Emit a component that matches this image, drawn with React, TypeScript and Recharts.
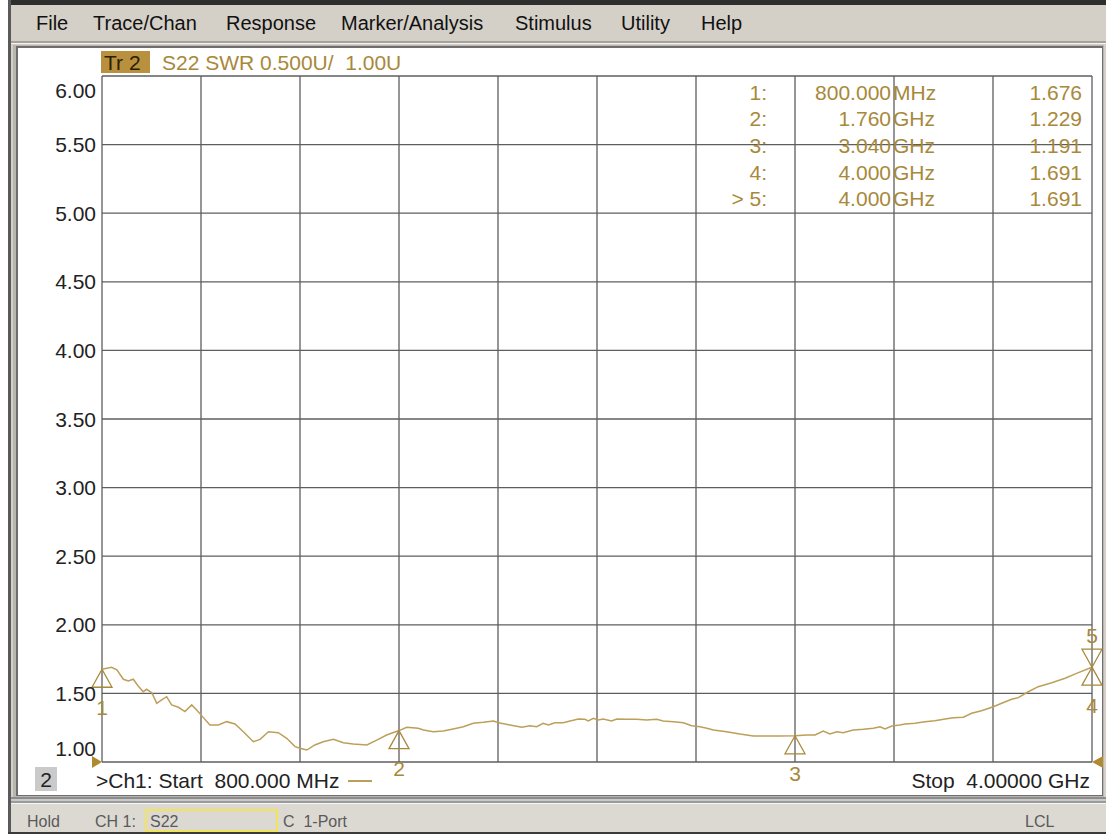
import React from 'react';
import { ComposedChart, Line, Scatter, XAxis, YAxis, CartesianGrid, ReferenceDot, ReferenceLine } from 'recharts';

// stimulus, GHz
const freqs = [
  0.8, 0.831, 0.848, 0.869, 0.885, 0.901, 0.917, 0.933, 0.944, 0.961, 0.977, 0.993, 1.009, 1.025, 1.047,
  1.068, 1.09, 1.106, 1.122, 1.149, 1.176, 1.203, 1.23, 1.257, 1.289, 1.311, 1.338, 1.37, 1.397, 1.424,
  1.44, 1.462, 1.488, 1.515, 1.548, 1.58, 1.612, 1.656, 1.688, 1.72, 1.76, 1.785, 1.822, 1.839, 1.871,
  1.903, 1.935, 1.968, 2.0, 2.032, 2.065, 2.086, 2.119, 2.157, 2.183, 2.205, 2.226, 2.243, 2.264, 2.291,
  2.313, 2.34, 2.361, 2.372, 2.388, 2.404, 2.42, 2.447, 2.464, 2.496, 2.528, 2.561, 2.593, 2.614, 2.647,
  2.679, 2.706, 2.733, 2.755, 2.776, 2.819, 2.862, 2.905, 2.948, 2.991, 3.04, 3.078, 3.105, 3.131, 3.153,
  3.175, 3.196, 3.228, 3.261, 3.293, 3.315, 3.331, 3.353, 3.379, 3.396, 3.428, 3.46, 3.492, 3.525, 3.552,
  3.584, 3.611, 3.643, 3.681, 3.708, 3.74, 3.762, 3.794, 3.826, 3.87, 3.913, 3.95, 4.0,
];

// S22 SWR
const swr = [
  1.676, 1.69, 1.671, 1.603, 1.59, 1.603, 1.554, 1.512, 1.53, 1.505, 1.428, 1.452, 1.476, 1.416, 1.399,
  1.367, 1.416, 1.379, 1.338, 1.27, 1.27, 1.294, 1.277, 1.221, 1.148, 1.165, 1.221, 1.214, 1.173, 1.112,
  1.1, 1.087, 1.124, 1.148, 1.165, 1.141, 1.131, 1.124, 1.16, 1.197, 1.229, 1.253, 1.246, 1.233, 1.221,
  1.226, 1.241, 1.257, 1.282, 1.289, 1.299, 1.284, 1.27, 1.253, 1.265, 1.257, 1.282, 1.27, 1.286, 1.286,
  1.299, 1.313, 1.311, 1.299, 1.319, 1.306, 1.313, 1.299, 1.313, 1.311, 1.311, 1.306, 1.311, 1.299, 1.294,
  1.286, 1.265, 1.257, 1.246, 1.233, 1.221, 1.204, 1.19, 1.19, 1.19, 1.191, 1.197, 1.197, 1.226, 1.204,
  1.221, 1.214, 1.233, 1.238, 1.246, 1.257, 1.241, 1.262, 1.27, 1.277, 1.282, 1.294, 1.301, 1.313, 1.323,
  1.326, 1.355, 1.374, 1.403, 1.428, 1.457, 1.469, 1.512, 1.549, 1.578, 1.61, 1.646, 1.691,
];

const xTicks = [0.8, 1.12, 1.44, 1.76, 2.08, 2.4, 2.72, 3.04, 3.36, 3.68, 4.0];
const yTicks = [1, 1.5, 2, 2.5, 3, 3.5, 4, 4.5, 5, 5.5, 6];

// markers
const markerNames = ['1', '2', '3', '4', '5'];
const markerFreqs = [0.8, 1.76, 3.04, 4.0, 4.0];
const markerValues = [1.676, 1.229, 1.191, 1.691, 1.691];
const markerStim = ['800.000', '1.760', '3.040', '4.000', '4.000'];
const markerUnits = ['MHz', 'GHz', 'GHz', 'GHz', 'GHz'];
const markerActive = [false, false, false, false, true];

const menuItems = ['File', 'Trace/Chan', 'Response', 'Marker/Analysis', 'Stimulus', 'Utility', 'Help'];
const menuX = [36, 93, 226, 341, 515, 621, 701];

const GOLD = '#a8883a';
const TRACE = '#bd9f5a';
const GRID = '#5e5e5e';
const FONT = '"Liberation Sans", Arial, sans-serif';

const data = freqs.map((f, i) => ({ f, swr: swr[i] }));
const markers = markerFreqs.map((f, i) => ({ f, v: markerValues[i], name: markerNames[i], down: markerActive[i] }));

const YTick = (props: any) => {
  const { x, y, payload } = props;
  const v = payload.value;
  const shift = v === 6 ? 14 : v === 1 ? -14 : 0;
  return (
    <text x={x - 4} y={y + shift} dy="0.36em" textAnchor="end" fill="#222" fontSize={21} fontFamily={FONT}>
      {v.toFixed(2)}
    </text>
  );
};

const MarkerShape = (props: any) => {
  const { cx, cy, payload } = props;
  const w = 10;
  const h = 18;
  if (payload.down) {
    return (
      <g>
        <path d={`M${cx},${cy} L${cx - w},${cy - h} L${cx + w},${cy - h} Z`} fill="none" stroke={GOLD} strokeWidth={1.3} />
        <text x={cx} y={cy - h - 14} dy="0.36em" textAnchor="middle" fill={GOLD} fontSize={21} fontFamily={FONT}>
          {payload.name}
        </text>
      </g>
    );
  }
  return (
    <g>
      <path d={`M${cx},${cy} L${cx - w},${cy + h} L${cx + w},${cy + h} Z`} fill="none" stroke={GOLD} strokeWidth={1.3} />
      <text x={cx} y={cy + h + 20} dy="0.36em" textAnchor="middle" fill={GOLD} fontSize={21} fontFamily={FONT}>
        {payload.name}
      </text>
    </g>
  );
};

const LeftRef = (props: any) => {
  const { cx, cy } = props;
  return <path d={`M${cx},${cy} L${cx - 10},${cy - 6} L${cx - 10},${cy + 6} Z`} fill="#b08a30" />;
};
const RightRef = (props: any) => {
  const { cx, cy } = props;
  return <path d={`M${cx},${cy} L${cx + 11},${cy - 6} L${cx + 11},${cy + 6} Z`} fill="#b08a30" />;
};

export default function App() {
  const rowY = [92, 118, 145, 172, 198];
  return (
    <div style={{ position: 'absolute', left: 0, top: 0, width: 1106, height: 834, overflow: 'hidden', background: '#fff' }}>
      {/* window frame */}
      <svg width={1106} height={834} style={{ position: 'absolute', left: 0, top: 0 }}>
        <rect x={0} y={0} width={1106} height={834} fill="#fff" />
        <rect x={8} y={0} width={1098} height={834} fill="#d4d0c8" />
        <rect x={8} y={0} width={1098} height={5} fill="#2e2e2e" />
        <rect x={8} y={0} width={3} height={834} fill="#5a5a5a" />
        <rect x={11} y={41} width={1095} height={2} fill="#a6a39c" />
        <rect x={11} y={43} width={1095} height={1} fill="#f4f2ee" />
        <rect x={13} y={45} width={1091} height={752} fill="#b9b6b0" />
        <rect x={16} y={46} width={1087} height={750} fill="#6e6e6e" />
        <rect x={18} y={48} width={1084} height={747} fill="#fff" />
        <rect x={11} y={797} width={1095} height={2} fill="#8c8c8c" />
        <rect x={11} y={799} width={1095} height={2} fill="#c9c9c9" />
        <rect x={11} y={801} width={1095} height={2} fill="#9a9a9a" />
        <rect x={11} y={803} width={1095} height={1} fill="#f6f6f6" />
        <rect x={11} y={804} width={1095} height={29} fill="#dcd9d2" />
        <rect x={8} y={832} width={1098} height={2} fill="#3a3a3a" />
      </svg>

      <ComposedChart
        width={1106}
        height={834}
        data={data}
        margin={{ top: 76, right: 14, bottom: 71, left: 22 }}
        style={{ position: 'absolute', left: 0, top: 0 }}
      >
        <CartesianGrid stroke={GRID} strokeWidth={1.3} vertical={false} />
        <XAxis
          type="number"
          dataKey="f"
          domain={[0.8, 4]}
          ticks={xTicks}
          interval={0}
          tick={false}
          axisLine={false}
          tickLine={false}
          height={1}
        />
        <YAxis
          type="number"
          domain={[1, 6]}
          ticks={yTicks}
          interval={0}
          width={80}
          axisLine={false}
          tickLine={false}
          tickSize={0}
          tick={<YTick />}
        />
        {xTicks.map((t) => (
          <ReferenceLine key={t} x={t} stroke={GRID} strokeWidth={1.3} ifOverflow="visible" />
        ))}
        <Line type="linear" dataKey="swr" stroke={TRACE} strokeWidth={1.5} dot={false} isAnimationActive={false} />
        <Scatter data={markers} dataKey="v" shape={<MarkerShape />} isAnimationActive={false} />
        <ReferenceDot x={0.8} y={1} r={0} shape={<LeftRef />} ifOverflow="visible" />
        <ReferenceDot x={4} y={1} r={0} shape={<RightRef />} ifOverflow="visible" />
      </ComposedChart>

      {/* texts */}
      <svg width={1106} height={834} style={{ position: 'absolute', left: 0, top: 0, pointerEvents: 'none' }} fontFamily={FONT}>
        {menuItems.map((m, i) => (
          <text key={m} x={menuX[i]} y={23} dy="0.36em" fontSize={20} fill="#111">
            {m}
          </text>
        ))}
        <rect x={101} y={51} width={49} height={22} fill="#b8903e" />
        <text x={104} y={62} dy="0.36em" fontSize={21} fill="#2a2000" style={{ whiteSpace: 'pre' }}>
          Tr 2
        </text>
        <text x={162} y={62} dy="0.36em" fontSize={21} fill={GOLD} style={{ whiteSpace: 'pre' }}>
          {'S22 SWR 0.500U/  1.00U'}
        </text>

        {markerNames.map((n, i) => (
          <g key={n + i} fontSize={21} fill={GOLD}>
            <text x={767} y={rowY[i]} dy="0.36em" textAnchor="end">
              {(markerActive[i] ? '> ' : '') + n + ':'}
            </text>
            <text x={891} y={rowY[i]} dy="0.36em" textAnchor="end">
              {markerStim[i]}
            </text>
            <text x={893} y={rowY[i]} dy="0.36em">
              {markerUnits[i]}
            </text>
            <text x={1082} y={rowY[i]} dy="0.36em" textAnchor="end">
              {markerValues[i].toFixed(3)}
            </text>
          </g>
        ))}

        <rect x={35} y={767} width={22} height={24} fill="#cacaca" />
        <text x={46} y={779} dy="0.36em" textAnchor="middle" fontSize={21} fill="#222">
          2
        </text>
        <text x={96} y={780} dy="0.36em" fontSize={21} fill="#222" style={{ whiteSpace: 'pre' }}>
          {'>Ch1: Start  800.000 MHz'}
        </text>
        <line x1={348} x2={372} y1={781} y2={781} stroke={TRACE} strokeWidth={2} />
        <text x={1090} y={780} dy="0.36em" textAnchor="end" fontSize={21} fill="#222" style={{ whiteSpace: 'pre' }}>
          {'Stop  4.00000 GHz'}
        </text>

        <g fontSize={16} fill="#5a5a5a">
          <text x={27} y={821} dy="0.36em">Hold</text>
          <text x={95} y={821} dy="0.36em">CH 1:</text>
          <rect x={146} y={810} width={131} height={21} fill="none" stroke="#f2e45a" strokeWidth={2} />
          <text x={150} y={821} dy="0.36em">S22</text>
          <text x={283} y={821} dy="0.36em" style={{ whiteSpace: 'pre' }}>{'C  1-Port'}</text>
          <text x={1025} y={821} dy="0.36em">LCL</text>
        </g>
      </svg>
    </div>
  );
}
